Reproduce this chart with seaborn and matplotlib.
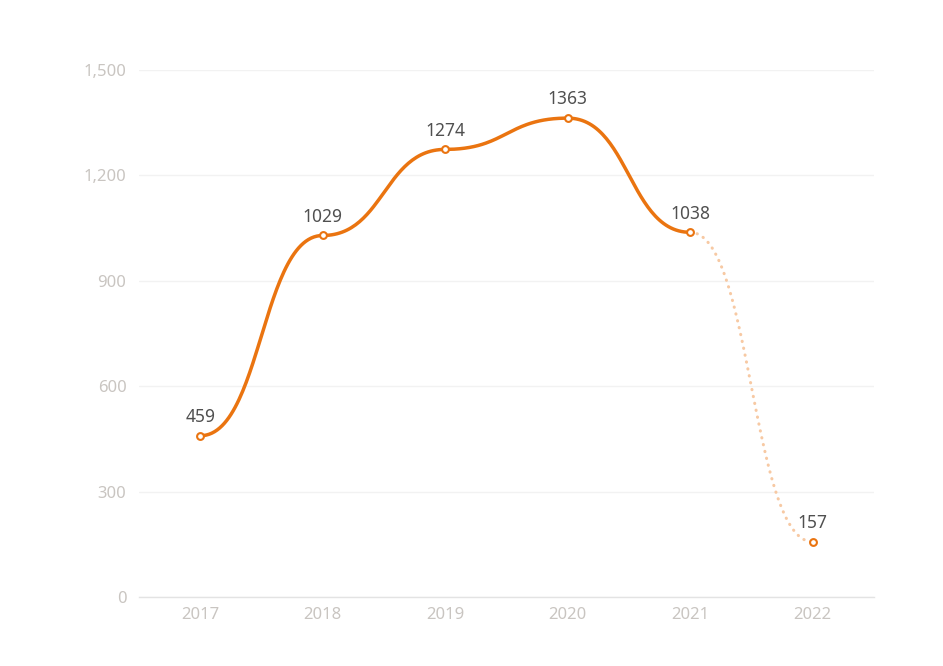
import numpy as np
import pandas as pd
import matplotlib
matplotlib.use("Agg")
import matplotlib.pyplot as plt
import seaborn as sns

years = ["2017", "2018", "2019", "2020", "2021", "2022"]
values = [459, 1029, 1274, 1363, 1038, 157]

sns.set_style("white")
plt.rcParams["font.family"] = ["Noto Sans", "DejaVu Sans"]

line_col = "#ea7410"
fade_col = "#f7c9a3"
tick_col = "#c9c5c1"


def smooth_curve(xs, ys, smooth=0.5, n=60):
    # bezier with flat tangents at every point (monotone x smoothing)
    px, py = [], []
    for i in range(len(xs) - 1):
        x0, x1, y0, y1 = xs[i], xs[i + 1], ys[i], ys[i + 1]
        d = (x1 - x0) * smooth
        t = np.linspace(0, 1, n)
        c0, c1 = x0 + d, x1 - d
        bx = (1 - t) ** 3 * x0 + 3 * (1 - t) ** 2 * t * c0 + 3 * (1 - t) * t ** 2 * c1 + t ** 3 * x1
        by = (1 - t) ** 3 * y0 + 3 * (1 - t) ** 2 * t * y0 + 3 * (1 - t) * t ** 2 * y1 + t ** 3 * y1
        px.extend(bx)
        py.extend(by)
    return pd.DataFrame({"x": px, "y": py})


pos = np.arange(len(years))
solid = smooth_curve(pos[:5], values[:5])
dashed = smooth_curve(pos[4:], values[4:])

fig = plt.figure(figsize=(9.43, 6.66), dpi=100)
ax = fig.add_axes([0.1474, 0.1036, 0.7794, 0.7913])

sns.lineplot(data=dashed, x="x", y="y", ax=ax, color=fade_col, lw=2.2,
             linestyle=(0, (0.1, 2.2)), dash_capstyle="round", sort=False)
sns.lineplot(data=solid, x="x", y="y", ax=ax, color=line_col, lw=2.5, sort=False)
pts = pd.DataFrame({"x": pos, "y": values})
sns.scatterplot(data=pts, x="x", y="y", ax=ax, s=24, color="white",
                edgecolor=line_col, linewidth=1.5, zorder=5)

for x, v in zip(pos, values):
    ax.annotate(str(v), (x, v), xytext=(0, 7), textcoords="offset points",
                ha="center", va="bottom", fontsize=12.5, color="#505050")

ax.set_xlim(-0.5, 5.5)
ax.set_ylim(0, 1500)
ax.set_xticks(pos)
ax.set_xticklabels(years)
ax.set_yticks([0, 300, 600, 900, 1200, 1500])
ax.set_yticklabels(["0", "300", "600", "900", "1,200", "1,500"])
ax.tick_params(axis="both", length=0, colors=tick_col, labelsize=12)
ax.tick_params(axis="y", pad=9)
ax.tick_params(axis="x", pad=7)
ax.set_xlabel("")
ax.set_ylabel("")
ax.grid(axis="y", color="#f2f2f2", lw=1)
ax.set_axisbelow(True)
for s in ["top", "right", "left"]:
    ax.spines[s].set_visible(False)
ax.spines["bottom"].set_color("#e3e3e3")
ax.spines["bottom"].set_linewidth(1)

fig.savefig("out.png", dpi=100)
